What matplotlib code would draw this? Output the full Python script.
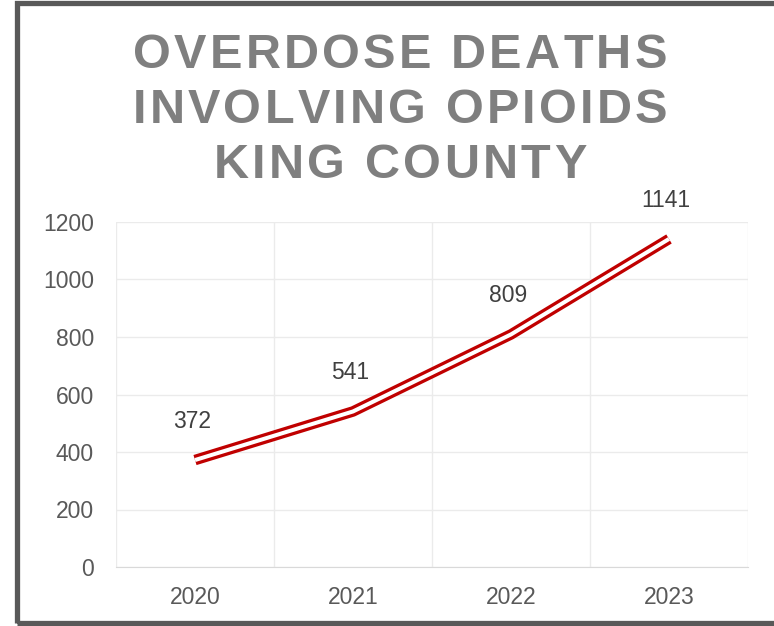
import matplotlib.pyplot as plt
from matplotlib.patches import Rectangle

years = ['2020', '2021', '2022', '2023']
deaths = [372, 541, 809, 1141]
y_ticks = [0, 200, 400, 600, 800, 1000, 1200]
title_lines = ['OVERDOSE DEATHS', 'INVOLVING OPIOIDS', 'KING COUNTY']

plt.rcParams['font.family'] = ['Liberation Sans', 'DejaVu Sans']

W, H = 774, 626
fig = plt.figure(figsize=(W / 100, H / 100), dpi=100)
ax = fig.add_axes([116 / W, 1 - 567 / H, 632 / W, 345 / H])

x = list(range(len(years)))
# double line: thick red with thin white core
ax.plot(x, deaths, color='#c00000', lw=7.6, solid_joinstyle='round', solid_capstyle='butt', zorder=3)
ax.plot(x, deaths, color='white', lw=2.9, solid_joinstyle='round', solid_capstyle='butt', zorder=4)

for xi, v in zip(x, deaths):
    ax.annotate(str(v), (xi, v), xytext=(-2, 28), textcoords='offset points',
                ha='center', va='center', fontsize=16.5, color='#404040')

ax.set_xlim(-0.5, len(years) - 0.5)
ax.set_ylim(0, 1200)
ax.set_xticks(x)
ax.set_xticklabels(years)
ax.set_xticks([i - 0.5 for i in range(len(years) + 1)], minor=True)
ax.set_yticks(y_ticks)
ax.grid(axis='y', color='#ebebeb', lw=1.0)
ax.grid(axis='x', which='minor', color='#ebebeb', lw=1.0)
ax.set_axisbelow(True)
ax.tick_params(axis='both', which='both', length=0, labelsize=16.5, labelcolor='#595959')
ax.tick_params(axis='y', pad=16)
ax.tick_params(axis='x', pad=14)
for s in ['top', 'right', 'left']:
    ax.spines[s].set_visible(False)
ax.spines['bottom'].set_color('#d9d9d9')

# title with wide letter spacing, placed char by char
renderer = fig.canvas.get_renderer()
title_kw = dict(fontsize=35, fontweight='bold', color='#7f7f7f', va='baseline', ha='left')

def char_widths(s):
    widths = []
    for ch in s:
        t = fig.text(0, 0, ch if ch != ' ' else 'I', **title_kw)
        widths.append(t.get_window_extent(renderer).width)
        t.remove()
    return widths

first_w = char_widths(title_lines[0])
spacing = (534 - sum(first_w)) / (len(title_lines[0]) - 1)
baselines = [68, 123, 178]
for line, base in zip(title_lines, baselines):
    ws = char_widths(line)
    total = sum(ws) + spacing * (len(line) - 1)
    xpos = 400 - total / 2
    for ch, w in zip(line, ws):
        if ch != ' ':
            fig.text(xpos / W, 1 - base / H, ch, **title_kw)
        xpos += w + spacing

fig.patches.append(Rectangle((16.5 / W, 3 / H), 1.0, 620 / H, transform=fig.transFigure,
                             fill=False, edgecolor='#595959', lw=3.8))

fig.savefig('out.png', dpi=100)
